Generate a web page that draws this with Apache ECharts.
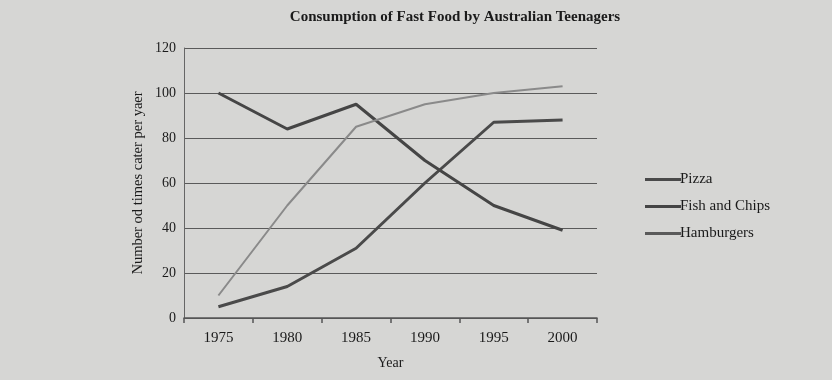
<!DOCTYPE html>
<html><head><meta charset="utf-8">
<script src="https://cdn.jsdelivr.net/npm/echarts@6/dist/echarts.min.js"></script>
<style>html,body{margin:0;padding:0;background:#d6d6d4;}#c{width:832px;height:380px;}</style>
</head><body><div id="c"></div>
<script>
const years = ['1975','1980','1985','1990','1995','2000'];
const pizza = [5, 14, 31, 60, 87, 88];
const fishAndChips = [100, 84, 95, 70, 50, 39];
const hamburgers = [10, 50, 85, 95, 100, 103];
const yTicks = [0, 20, 40, 60, 80, 100, 120];

const font = '"Liberation Serif", "DejaVu Serif", serif';
const chart = echarts.init(document.getElementById('c'));
chart.setOption({
  backgroundColor: '#d6d6d4',
  animation: false,
  textStyle: {fontFamily: font},
  title: {
    text: 'Consumption of Fast Food by Australian Teenagers',
    left: 450, top: 5, textAlign: 'center',
    textStyle: {fontFamily: font, fontSize: 15, fontWeight: 'bold', color: '#1a1a1a'}
  },
  legend: {
    orient: 'vertical', left: 640, top: 167, itemGap: 12,
    itemWidth: 36, itemHeight: 3, icon: 'rect',
    textStyle: {fontFamily: font, fontSize: 15, color: '#1a1a1a', padding: [0,0,0,-6]},
    data: ['Pizza', 'Fish and Chips', 'Hamburgers']
  },
  grid: {left: 184, right: 235, top: 48, bottom: 62},
  xAxis: {
    type: 'category', data: years, boundaryGap: true,
    name: 'Year', nameLocation: 'middle', nameGap: 38,
    nameTextStyle: {fontFamily: font, fontSize: 14, color: '#1a1a1a'},
    axisLine: {lineStyle: {color: '#555', width: 1.5}},
    axisTick: {show: true, alignWithLabel: false, length: 5, lineStyle: {color: '#555', width: 1.5}},
    axisLabel: {fontFamily: font, fontSize: 15, color: '#1a1a1a', margin: 13}
  },
  yAxis: {
    type: 'value', min: 0, max: 120, interval: 20,
    name: 'Number od times cater per yaer', nameLocation: 'middle', nameGap: 38,
    nameTextStyle: {fontFamily: font, fontSize: 14.5, color: '#1a1a1a'},
    axisLine: {show: true, lineStyle: {color: '#666', width: 1}},
    axisTick: {show: false},
    axisLabel: {fontFamily: font, fontSize: 14, color: '#1a1a1a', margin: 8,
      formatter: v => yTicks.includes(v) ? String(v) : ''},
    splitLine: {show: true, lineStyle: {color: '#5a5a5a', width: 1}}
  },
  series: [
    {name: 'Pizza', type: 'line', data: pizza, showSymbol: false, symbol: 'none',
     color: '#4a4a4a', lineStyle: {color: '#4a4a4a', width: 3}},
    {name: 'Fish and Chips', type: 'line', data: fishAndChips, showSymbol: false, symbol: 'none',
     color: '#454545', lineStyle: {color: '#454545', width: 3}},
    {name: 'Hamburgers', type: 'line', data: hamburgers, showSymbol: false, symbol: 'none',
     color: '#5a5a5a', lineStyle: {color: '#8a8a8a', width: 2}}
  ]
});
</script></body></html>
